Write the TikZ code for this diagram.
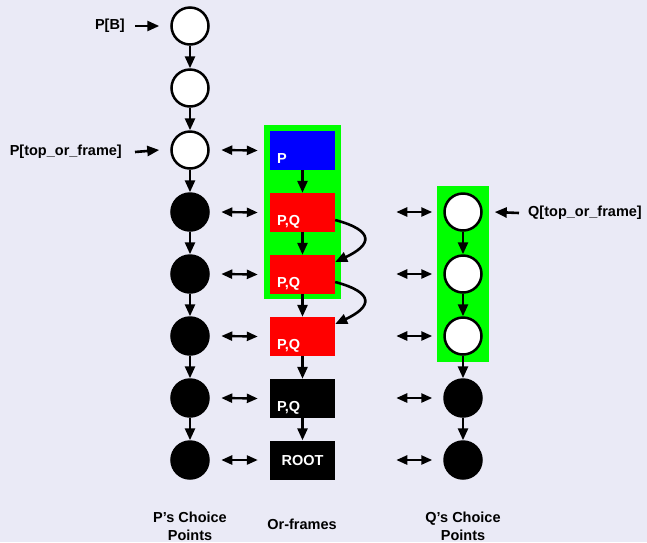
\documentclass[tikz,border=0pt]{standalone}
\usepackage{fontspec}
\setmainfont{Liberation Sans}
\usetikzlibrary{arrows.meta}
\definecolor{bg}{RGB}{234,234,246}
\definecolor{gr}{RGB}{0,255,0}
\begin{document}
\begin{tikzpicture}[x=1pt,y=-1pt,
  font=\fontsize{14.5}{18}\selectfont\bfseries,
  tip/.tip={Triangle[length=12pt,width=10pt]},
  dtip/.tip={Triangle[length=11pt,width=9pt]},
  arr/.style={line width=2.6pt,-tip},
  darr/.style={line width=2.4pt,dtip-dtip},
  wc/.style={circle,draw=black,fill=white,line width=2.5pt,minimum size=37pt,inner sep=0pt},
  bc/.style={circle,draw=black,fill=black,line width=2.5pt,minimum size=37pt,inner sep=0pt},
  frm/.style={rectangle,minimum width=65pt,minimum height=39pt,inner sep=0pt},
  ftxt/.style={anchor=base west,text=white,inner sep=0pt,xshift=7pt,yshift=7pt},
  grn/.style={rectangle,fill=gr,inner sep=0pt},
]
\fill[bg] (0,0) rectangle (647,542);
\useasboundingbox (0,0) rectangle (647,542);

% green backgrounds
\node[grn,minimum width=77pt,minimum height=174pt] (gf) at (302.5,212) {};
\node[grn,minimum width=52pt,minimum height=176pt] (gq) at (463,274) {};

% P column
\node[wc] (p1) at (190,26) {};
\node[wc] (p2) at (190,88) {};
\node[wc] (p3) at (190,150) {};
\node[bc] (p4) at (190,212) {};
\node[bc] (p5) at (190,274) {};
\node[bc] (p6) at (190,336) {};
\node[bc] (p7) at (190,398) {};
\node[bc] (p8) at (190,460) {};

% Or-frames
\node[frm,fill=blue]  (f1) at (302.5,150.5) {};
\node[frm,fill=red]   (f2) at (302.5,212.5) {};
\node[frm,fill=red]   (f3) at (302.5,274.5) {};
\node[frm,fill=red]   (f4) at (302.5,336.5) {};
\node[frm,fill=black] (f5) at (302.5,398.5) {};
\node[frm,fill=black,text=white] (f6) at (302.5,460) {ROOT};
\node[ftxt] (t1) at (f1.south west) {P};
\node[ftxt] (t2) at (f2.south west) {P,Q};
\node[ftxt] (t3) at (f3.south west) {P,Q};
\node[ftxt] (t4) at (f4.south west) {P,Q};
\node[ftxt] (t5) at (f5.south west) {P,Q};

% Q column
\node[wc] (q1) at (463,212) {};
\node[wc] (q2) at (463,274) {};
\node[wc] (q3) at (463,336) {};
\node[bc] (q4) at (463,398) {};
\node[bc] (q5) at (463,460) {};

% vertical arrows
\foreach \a/\b in {p1/p2,p2/p3,p3/p4,p4/p5,p5/p6,p6/p7,p7/p8,
                   f1/f2,f2/f3,f3/f4,f4/f5,f5/f6,
                   q1/q2,q2/q3,q3/q4,q4/q5}
  \draw[arr] (\a) -- (\b);

% curved arrows
\draw[arr] ([yshift=-7.5pt]f2.east) to[out=-15,in=25,looseness=2.5] ([yshift=12.5pt]f3.east);
\draw[arr] ([yshift=-7.5pt]f3.east) to[out=-15,in=25,looseness=2.5] ([yshift=12.5pt]f4.east);

% double arrows P <-> frames
\foreach \a/\b in {p3/f1,p4/f2,p5/f3,p6/f4,p7/f5,p8/f6}
  \draw[darr] ([xshift=11.5pt]\a.east) -- ([xshift=-12pt]\b.west);
% double arrows frames <-> Q
\foreach \q in {q1,q2,q3,q4,q5}
  \draw[darr] ([xshift=-47pt]\q.west) -- ([xshift=-11pt]\q.west);

% labels
\node[anchor=east,inner sep=0pt] (lb) at (125,26) {P[B]};
\draw[arr] ([xshift=10pt]lb.east) -- ([xshift=-11pt]p1.west);
\node[anchor=east,inner sep=0pt] (lt) at (122,152) {P[top\_or\_frame]};
\draw[arr] ([xshift=13pt]lt.east) -- ([xshift=-11pt]p3.west);
\node[anchor=west,inner sep=0pt] (lq) at (528,213) {Q[top\_or\_frame]};
\draw[arr] ([xshift=-9pt]lq.west) -- ([xshift=12pt]q1.east);

\node[align=center,inner sep=0pt] (bp) at (190,526) {P’s Choice\\Points};
\node[inner sep=0pt] (bf) at (302,524) {Or-frames};
\node[align=center,inner sep=0pt] (bq) at (463,526) {Q’s Choice\\Points};
\end{tikzpicture}
\end{document}
